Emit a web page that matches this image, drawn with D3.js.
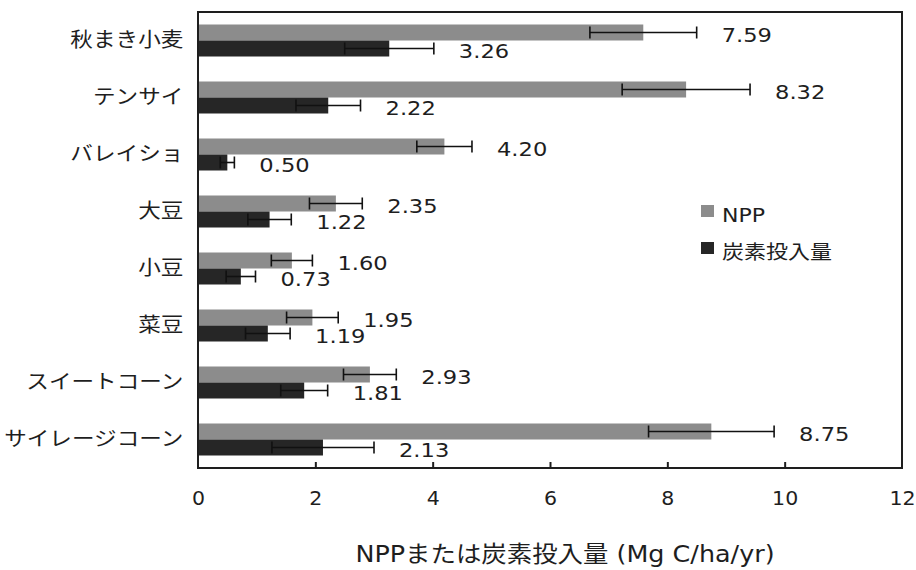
<!DOCTYPE html>
<html>
<head>
<meta charset="utf-8">
<script src="https://cdn.jsdelivr.net/npm/d3@7"></script>
<style>
  html, body { margin: 0; padding: 0; background: #fff; }
  svg { display: block; }
  text { font-family: "DejaVu Sans", "Noto Sans CJK JP", sans-serif; fill: #1e1e1e; }
</style>
</head>
<body>
<svg id="chart" width="916" height="570"></svg>
<script>
const categories = ["秋まき小麦", "テンサイ", "バレイショ", "大豆", "小豆", "菜豆", "スイートコーン", "サイレージコーン"];
const seriesNames = ["NPP", "炭素投入量"];
const nppValues = [7.59, 8.32, 4.20, 2.35, 1.60, 1.95, 2.93, 8.75];
const nppErrors = [0.91, 1.09, 0.47, 0.45, 0.35, 0.44, 0.45, 1.07];
const carbonValues = [3.26, 2.22, 0.50, 1.22, 0.73, 1.19, 1.81, 2.13];
const carbonErrors = [0.76, 0.55, 0.12, 0.37, 0.25, 0.38, 0.40, 0.87];
const xTicks = [0, 2, 4, 6, 8, 10, 12];
const xDomain = [0, 12];
const axisTitle = "NPPまたは炭素投入量 (Mg C/ha/yr)";

const colors = ["#8c8c8c", "#262626"];
const SX = 1.13; // horizontal stretch of the reference text

const svg = d3.select("#chart");
const mLeft = 198, mRight = 902, mTop = 12, mBottom = 468;

const x = d3.scaleLinear().domain(xDomain).range([mLeft, mRight]);
const y = d3.scaleBand().domain(categories).range([mTop, mBottom])
  .paddingInner(0.4386).paddingOuter(0.2193);
const ySub = d3.scaleBand().domain(seriesNames).range([0, y.bandwidth()]).padding(0);

const rows = categories.map((c, i) => ({
  cat: c,
  series: [
    { name: seriesNames[0], v: nppValues[i], e: nppErrors[i], color: colors[0] },
    { name: seriesNames[1], v: carbonValues[i], e: carbonErrors[i], color: colors[1] }
  ]
}));

// bars
const g = svg.append("g");
const rowG = g.selectAll("g.row").data(rows).join("g")
  .attr("class", "row")
  .attr("transform", d => `translate(0,${y(d.cat)})`);

rowG.selectAll("rect").data(d => d.series).join("rect")
  .attr("x", x(0))
  .attr("y", d => ySub(d.name))
  .attr("width", d => x(d.v) - x(0))
  .attr("height", ySub.bandwidth())
  .attr("fill", d => d.color);

// error bars
const capH = 12;
const eb = rowG.selectAll("g.err").data(d => d.series).join("g").attr("class", "err")
  .attr("stroke", "#111").attr("stroke-width", 1.6).attr("fill", "none");
eb.append("line")
  .attr("x1", d => x(d.v - d.e)).attr("x2", d => x(d.v + d.e))
  .attr("y1", d => ySub(d.name) + ySub.bandwidth() / 2)
  .attr("y2", d => ySub(d.name) + ySub.bandwidth() / 2);
eb.append("line")
  .attr("x1", d => x(d.v - d.e)).attr("x2", d => x(d.v - d.e))
  .attr("y1", d => ySub(d.name) + ySub.bandwidth() / 2 - capH / 2)
  .attr("y2", d => ySub(d.name) + ySub.bandwidth() / 2 + capH / 2);
eb.append("line")
  .attr("x1", d => x(d.v + d.e)).attr("x2", d => x(d.v + d.e))
  .attr("y1", d => ySub(d.name) + ySub.bandwidth() / 2 - capH / 2)
  .attr("y2", d => ySub(d.name) + ySub.bandwidth() / 2 + capH / 2);

// value labels
rowG.selectAll("text.val").data(d => d.series).join("text")
  .attr("class", "val")
  .attr("transform", d => `translate(${x(d.v + d.e) + 25},${ySub(d.name) + ySub.bandwidth() / 2 + 2.5}) scale(${SX},1)`)
  .attr("dy", "0.36em")
  .attr("font-size", 20)
  .text(d => d.v.toFixed(2));

// frame
svg.append("rect")
  .attr("x", mLeft).attr("y", mTop)
  .attr("width", mRight - mLeft).attr("height", mBottom - mTop)
  .attr("fill", "none").attr("stroke", "#1e1e1e").attr("stroke-width", 2);

// x axis
const xAxis = svg.append("g")
  .attr("transform", `translate(0,${mBottom})`)
  .call(d3.axisBottom(x).tickValues(xTicks).tickSize(-6).tickPadding(24).tickFormat(d3.format("d")));
xAxis.select(".domain").remove();
xAxis.selectAll(".tick line").attr("stroke", "#1e1e1e").attr("stroke-width", 2)
  .filter(d => d === xDomain[0] || d === xDomain[1]).remove();
xAxis.selectAll(".tick text")
  .attr("font-size", 19)
  .attr("font-family", null)
  .attr("fill", "#1e1e1e")
  .attr("transform", `scale(1.08,1)`);

// y axis labels
const yAxis = svg.append("g")
  .attr("transform", `translate(${mLeft},0)`)
  .call(d3.axisLeft(y).tickSize(0).tickPadding(13));
yAxis.select(".domain").remove();
yAxis.selectAll(".tick text")
  .attr("font-size", 20)
  .attr("font-family", null)
  .attr("fill", "#1e1e1e")
  .attr("transform", `scale(${SX},1)`);

// axis title
svg.append("text")
  .attr("transform", `translate(565,554) scale(${SX},1)`)
  .attr("text-anchor", "middle")
  .attr("dy", "0.36em")
  .attr("font-size", 22.5)
  .text(axisTitle);

// legend
const legend = svg.append("g");
const legendItems = seriesNames.map((n, i) => ({ name: n, color: colors[i] }));
const lg = legend.selectAll("g").data(legendItems).join("g")
  .attr("transform", (d, i) => `translate(701,${205 + i * 37})`);
lg.append("rect").attr("width", 13).attr("height", 12).attr("fill", d => d.color);
lg.append("text")
  .attr("transform", `translate(21,10) scale(${SX},1)`)
  .attr("dy", "0.36em")
  .attr("font-size", 19.5)
  .text(d => d.name);
</script>
</body>
</html>
